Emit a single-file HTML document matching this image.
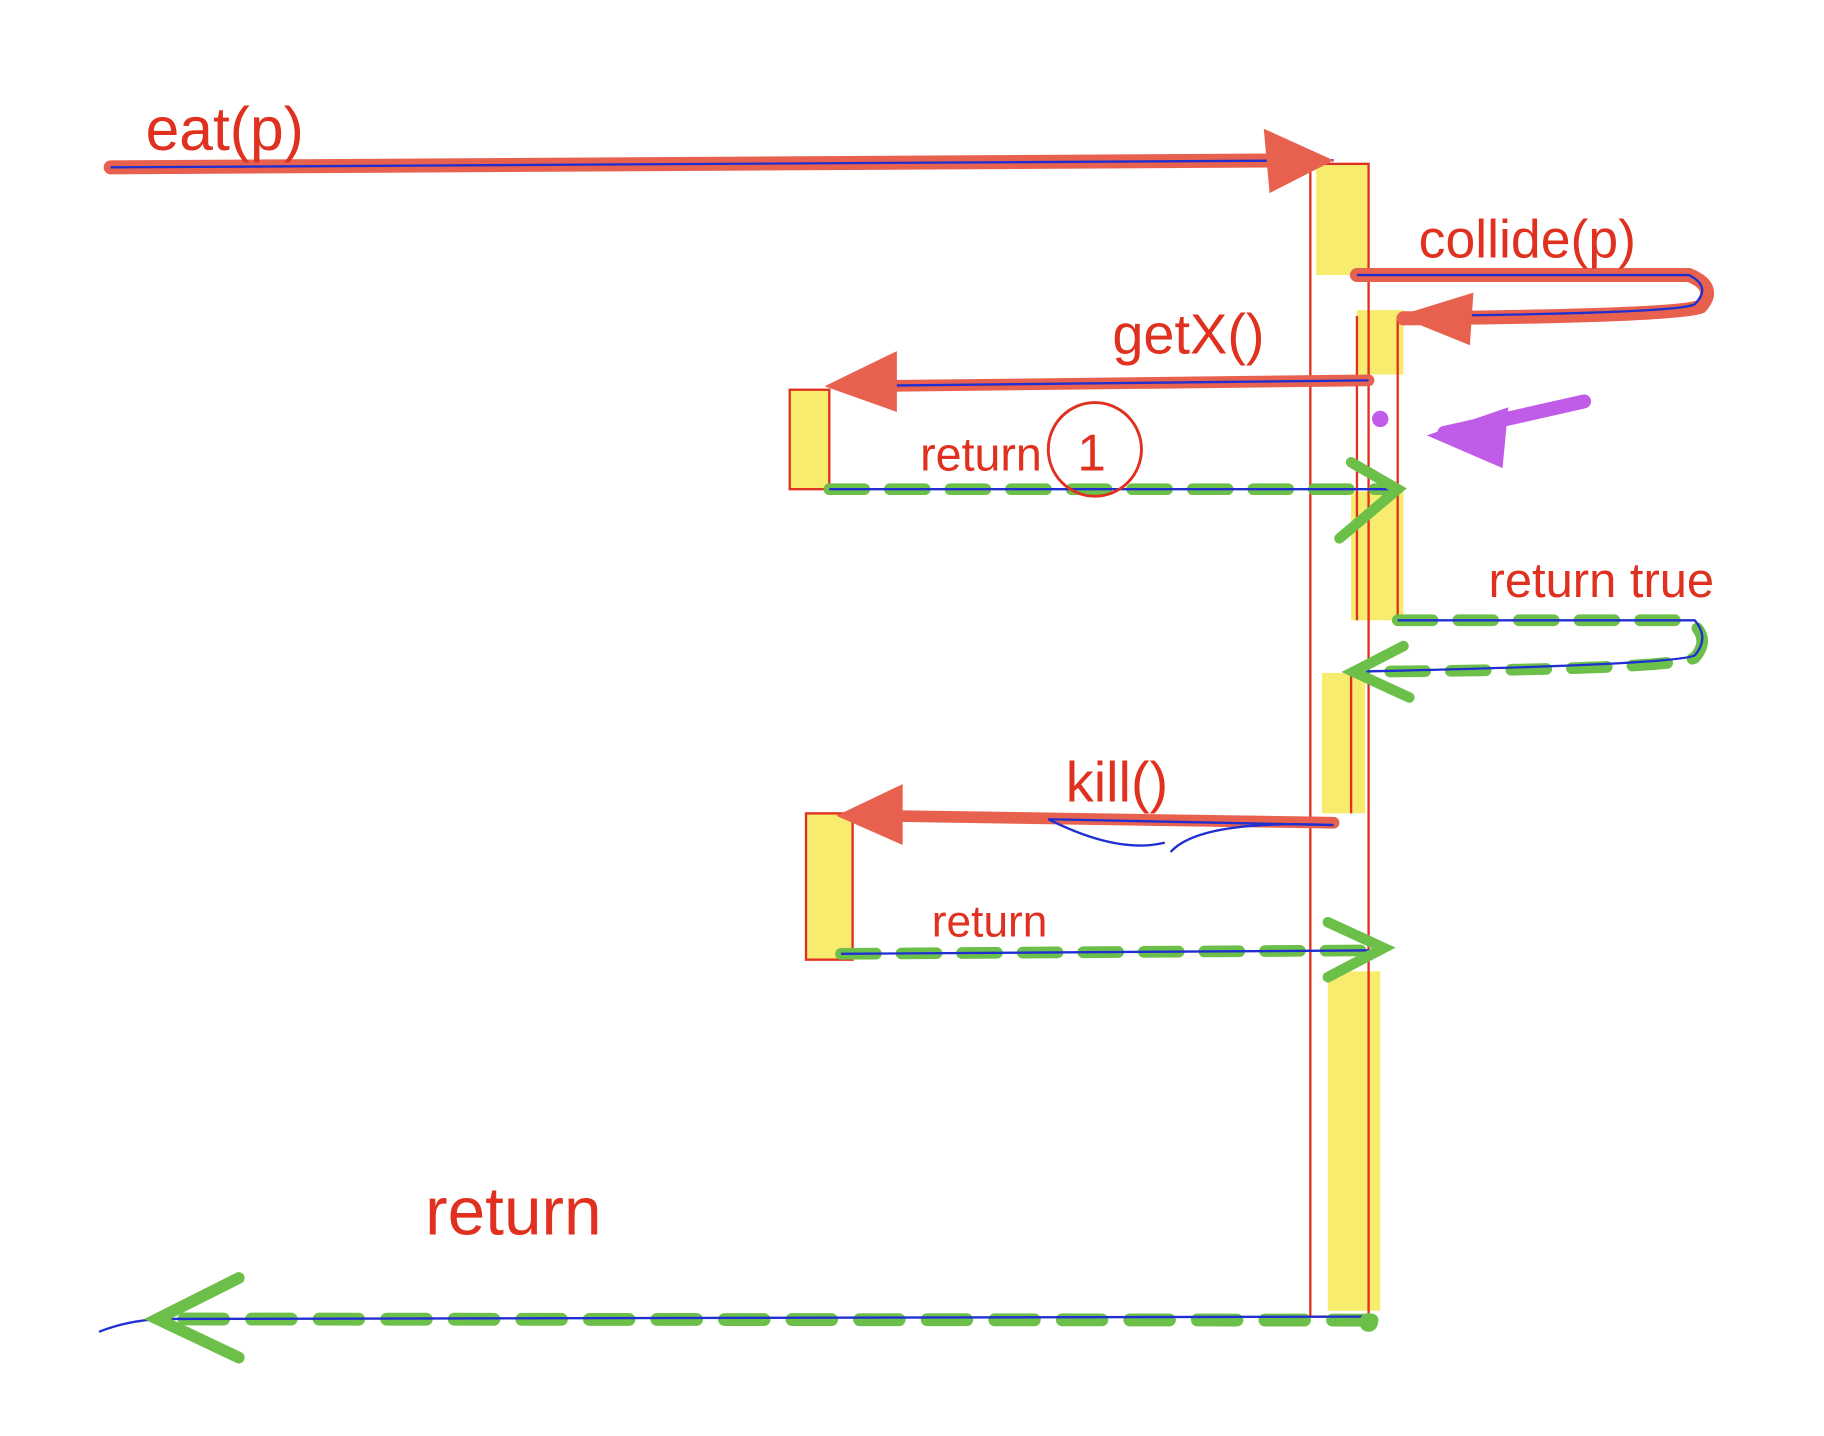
<!DOCTYPE html>
<html><head><meta charset="utf-8"><style>
html,body{margin:0;padding:0;background:#fff;width:1824px;height:1436px;overflow:hidden}
svg{display:block}
text{font-family:"Liberation Sans",sans-serif;fill:#e0301f}
</style></head><body>
<svg width="1824" height="1436" viewBox="0 0 1566 1227" preserveAspectRatio="none">
<rect width="1566" height="1227" fill="#fff"/>
<g fill="#f8ec6e">
<rect x="1130" y="140" width="45" height="95"/>
<rect x="1165" y="265" width="40" height="55"/>
<rect x="1160" y="420" width="45" height="110"/>
<rect x="1135" y="575" width="37" height="120"/>
<rect x="1140" y="830" width="45" height="290"/>
<rect x="678" y="333" width="34" height="85"/>
<rect x="692" y="695" width="40" height="125"/>
</g>
<g fill="none" stroke="#e0301f" stroke-width="2">
<rect x="1125" y="140" width="50" height="985"/>
<line x1="1165" y1="270" x2="1165" y2="530"/>
<line x1="1200" y1="270" x2="1200" y2="530"/>
<rect x="678" y="333" width="34" height="85"/>
<rect x="692" y="695" width="40" height="125"/>
<line x1="1160" y1="575" x2="1160" y2="695"/>
</g>
<line x1="95" y1="143" x2="1120" y2="137" stroke="#e8604e" stroke-width="12" stroke-linecap="round"/>
<line x1="95" y1="143" x2="1145" y2="137" stroke="#2030d0" stroke-width="2"/>
<polygon points="1085,110 1145,137 1090,165" fill="#e8604e"/>
<text x="125" y="128" font-size="52">eat(p)</text>
<path d="M1165,235 L1450,235 Q1475,245 1460,262 Q1440,270 1205,272" fill="none" stroke="#e8604e" stroke-width="12" stroke-linecap="round"/>
<path d="M1165,235 L1450,235 Q1470,245 1455,260 Q1440,268 1205,270" fill="none" stroke="#2030d0" stroke-width="2"/>
<polygon points="1265,250 1200,270 1262,295" fill="#e8604e"/>
<text x="1218" y="220" font-size="46">collide(p)</text>
<line x1="1175" y1="325" x2="740" y2="330" stroke="#e8604e" stroke-width="10" stroke-linecap="round"/>
<line x1="1175" y1="325" x2="710" y2="330" stroke="#2030d0" stroke-width="2"/>
<polygon points="770,300 708,330 770,352" fill="#e8604e"/>
<text x="955" y="302" font-size="48">getX()</text>
<line x1="712" y1="418" x2="1195" y2="418" stroke="#6cc04a" stroke-width="10" stroke-dasharray="30,22" stroke-linecap="round"/>
<line x1="712" y1="418" x2="1195" y2="418" stroke="#2030d0" stroke-width="2"/>
<polyline points="1160,395 1200,418 1150,460" fill="none" stroke="#6cc04a" stroke-width="9" stroke-linecap="round"/>
<text x="790" y="402" font-size="40">return</text>
<circle cx="940" cy="384" r="40" fill="none" stroke="#e0301f" stroke-width="2.5"/>
<text x="925" y="402" font-size="44">1</text>
<line x1="1360" y1="343" x2="1240" y2="370" stroke="#c05ce8" stroke-width="12" stroke-linecap="round"/>
<polygon points="1295,348 1225,372 1290,400" fill="#c05ce8"/>
<circle cx="1185" cy="358" r="7" fill="#c05ce8"/>
<path d="M1200,530 L1450,530 Q1470,545 1455,562 Q1440,572 1165,574" fill="none" stroke="#6cc04a" stroke-width="10" stroke-dasharray="30,22" stroke-linecap="round"/>
<path d="M1200,530 L1455,530 Q1468,545 1455,560 Q1440,568 1160,574" fill="none" stroke="#2030d0" stroke-width="2"/>
<polyline points="1205,552 1162,574 1210,596" fill="none" stroke="#6cc04a" stroke-width="9" stroke-linecap="round"/>
<text x="1278" y="510" font-size="42">return true</text>
<line x1="1145" y1="703" x2="750" y2="697" stroke="#e8604e" stroke-width="10" stroke-linecap="round"/>
<path d="M1145,705 L900,700 Q960,730 1000,720 M1005,728 Q1030,700 1145,705" fill="none" stroke="#2030d0" stroke-width="2"/>
<polygon points="775,670 718,697 775,722" fill="#e8604e"/>
<text x="915" y="685" font-size="48">kill()</text>
<line x1="722" y1="815" x2="1185" y2="812" stroke="#6cc04a" stroke-width="10" stroke-dasharray="30,22" stroke-linecap="round"/>
<line x1="722" y1="815" x2="1185" y2="812" stroke="#2030d0" stroke-width="2"/>
<polyline points="1140,788 1188,810 1140,835" fill="none" stroke="#6cc04a" stroke-width="9" stroke-linecap="round"/>
<text x="800" y="800" font-size="38">return</text>
<line x1="1178" y1="1128" x2="140" y2="1127" stroke="#6cc04a" stroke-width="11" stroke-dasharray="34,24" stroke-linecap="round"/>
<path d="M85,1138 Q110,1128 140,1127 L1180,1125" fill="none" stroke="#2030d0" stroke-width="2"/>
<polyline points="205,1092 135,1127 205,1160" fill="none" stroke="#6cc04a" stroke-width="10" stroke-linecap="round"/>
<circle cx="1175" cy="1130" r="8" fill="#6cc04a"/>
<text x="365" y="1055" font-size="58">return</text>
</svg>
</body></html>
